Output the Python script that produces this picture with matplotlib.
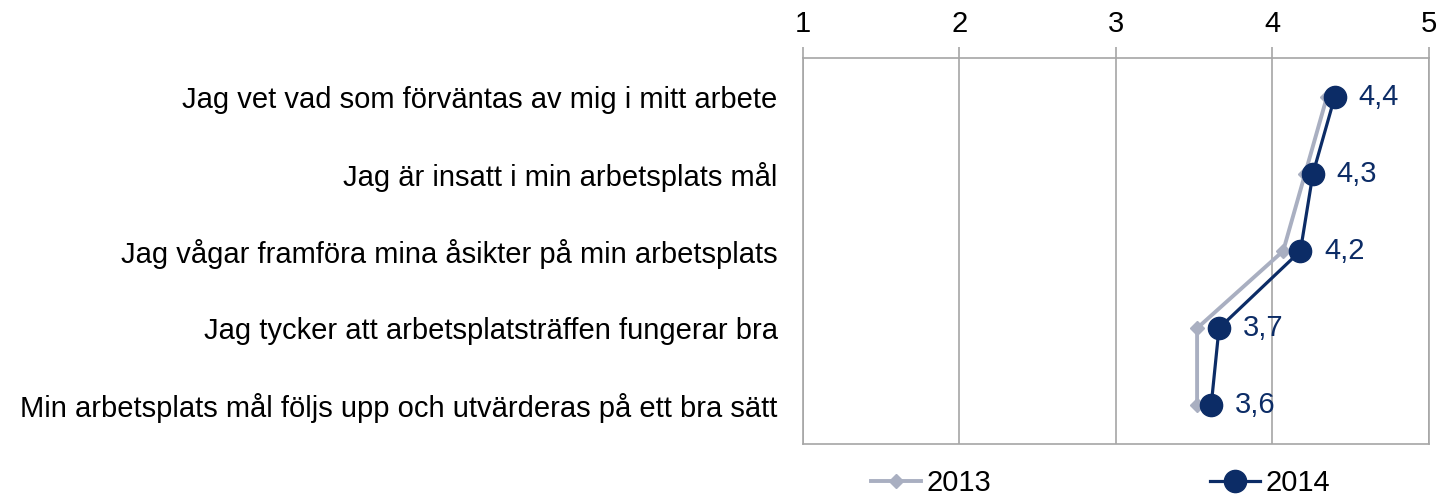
import numpy as np
import matplotlib.pyplot as plt

plt.rcParams['font.family'] = ['Liberation Sans', 'DejaVu Sans']

# påståenden (uppifrån och ned)
kategorier = [
    "Jag vet vad som förväntas av mig i mitt arbete",
    "Jag är insatt i min arbetsplats mål",
    "Jag vågar framföra mina åsikter på min arbetsplats",
    "Jag tycker att arbetsplatsträffen fungerar bra",
    "Min arbetsplats mål följs upp och utvärderas på ett bra sätt",
]
v2013 = [4.35, 4.21, 4.07, 3.52, 3.52]
v2014 = [4.40, 4.26, 4.18, 3.66, 3.61]
xticks = [1, 2, 3, 4, 5]

c2013 = "#A9AFC1"
c2014 = "#0C2C66"
grid_c = "#A6A6A6"
fs = 21

fig = plt.figure(figsize=(14.41, 4.99), dpi=100)
ax = fig.add_axes([0.557, 0.110, 0.4345, 0.774])

y = np.arange(len(kategorier))

ax.plot(v2013, y, color=c2013, linewidth=2.8, marker="D", markersize=7,
        label="2013", zorder=3)
ax.plot(v2014, y, color=c2014, linewidth=2.3, marker="o", markersize=16,
        label="2014", zorder=4)

# etiketter bara för 2014
for xv, yv in zip(v2014, y):
    ax.annotate(f"{xv:.1f}".replace(".", ","), (xv, yv), xytext=(17, 0),
                textcoords="offset points", va="center", ha="left",
                fontsize=fs, color=c2014)

ax.set_xlim(1, 5)
ax.set_ylim(len(kategorier) - 0.5, -0.5)
ax.set_xticks(xticks)
ax.set_xticklabels([str(t) for t in xticks], fontsize=fs)
ax.xaxis.tick_top()
ax.tick_params(axis="x", direction="out", length=8, width=1.2, color=grid_c, pad=6)

ax.set_yticks(y)
ax.set_yticklabels(kategorier, fontsize=fs)
ax.tick_params(axis="y", length=0, pad=18)

ax.grid(True, axis="x", color=grid_c, linewidth=1.2)
ax.set_axisbelow(True)
for s in ax.spines.values():
    s.set_color(grid_c)
    s.set_linewidth(1.2)

ax.legend(loc="upper center", bbox_to_anchor=(0.476, -0.012), ncol=2,
          frameon=False, fontsize=fs, columnspacing=7.5, handlelength=1.7,
          handletextpad=0.2, borderaxespad=0.3)

fig.savefig("out.png", dpi=100)
